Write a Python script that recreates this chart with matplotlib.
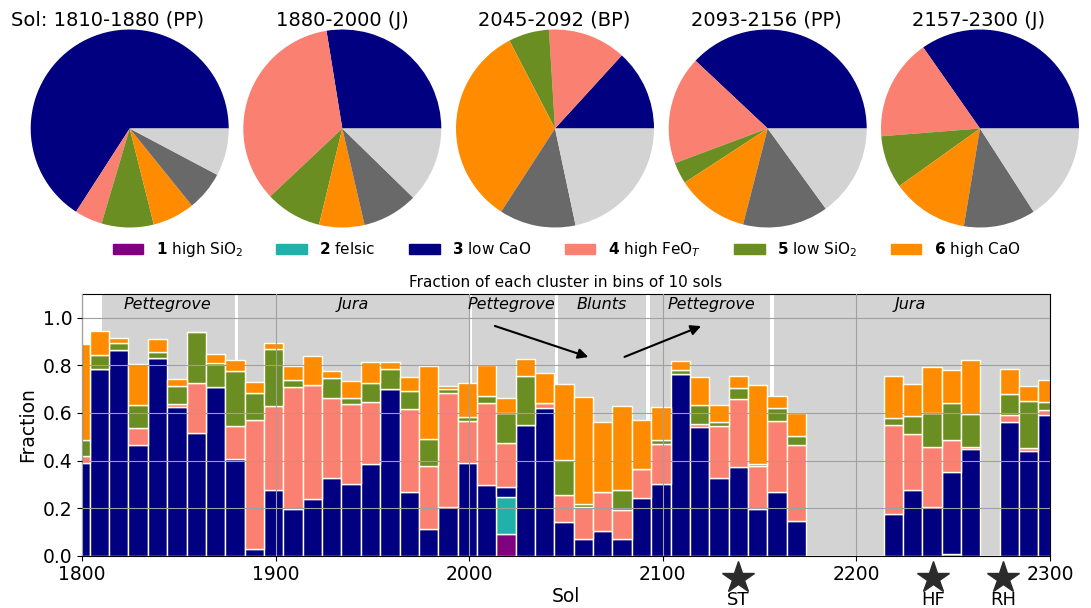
import matplotlib.pyplot as plt
from matplotlib.patches import Patch
import numpy as np

# ---- pie charts: share of each cluster per traverse segment (arc, degrees) ----
pie_titles = ['Sol: 1810-1880 (PP)', '1880-2000 (J)', '2045-2092 (BP)',
              '2093-2156 (PP)', '2157-2300 (J)']
pie_low_cao = [237.2, 99.2, 47.6, 136.8, 125.0]
pie_high_feo = [16.3, 124.1, 45.9, 63.7, 59.5]
pie_low_sio2 = [30.6, 33.1, 23.9, 12.6, 31.0]
pie_high_cao = [24.8, 26.6, 119.7, 42.5, 45.1]
pie_other_a = [23.2, 32.7, 44.9, 50.3, 42.2]
pie_other_b = [27.9, 44.3, 78.0, 54.1, 57.2]
pie_colors = ['navy', 'salmon', 'olivedrab', 'darkorange', 'dimgray', 'lightgray']

# ---- stacked bars: fraction of each cluster in 10-sol bins ----
bin_left = np.arange(1794, 2304, 10)
high_sio2 = [0, 0, 0, 0, 0, 0, 0, 0, 0, 0,
             0, 0, 0, 0, 0, 0, 0, 0, 0, 0,
             0, 0, .09, 0, 0, 0, 0, 0, 0, 0,
             0, 0, 0, 0, 0, 0, 0, 0, 0, 0,
             0, 0, 0, 0, 0, 0, 0, 0, 0, 0, 0]
felsic = [0, 0, 0, 0, 0, 0, 0, 0, 0, 0,
          0, 0, 0, 0, 0, 0, 0, 0, 0, 0,
          0, 0, .155, 0, 0, 0, 0, 0, 0, 0,
          0, 0, 0, 0, 0, 0, 0, 0, 0, 0,
          0, 0, 0, 0, 0, .006, 0, 0, 0, 0, 0]
low_cao = [.39, .784, .864, .465, .832, .623, .517, .707, .406, .029,
           .276, .197, .237, .325, .30, .384, .702, .267, .113, .206,
           .389, .297, .042, .548, .62, .14, .069, .104, .069, .241,
           .301, .765, .539, .328, .371, .197, .269, .147, 0, 0,
           0, 0, .174, .276, .206, .346, .447, 0, .56, .44, .591]
high_feo = [.03, 0, 0, .071, 0, .014, .21, 0, .137, .542,
            .351, .513, .479, .336, .337, .26, 0, .349, .264, .476,
            .177, .346, .186, 0, .02, .115, .135, .165, .123, .123,
            .167, 0, .014, .218, .289, .18, .297, .317, 0, 0,
            0, 0, .375, .235, .249, .135, .011, 0, .032, .012, .021]
low_sio2 = [.066, .058, .028, .097, .024, .076, .211, .104, .232, .112,
            .241, .028, 0, .087, .027, .08, .084, .076, .113, .017,
            .018, .028, .126, .207, 0, .147, .012, 0, .085, 0,
            .018, .015, .08, .016, .044, .01, .056, .04, 0, 0,
            0, 0, .031, .077, .146, .154, .136, 0, .086, .198, .032]
high_cao = [.402, .102, .024, .172, .053, .028, 0, .035, .047, .048,
            .024, .06, .124, .027, .071, .09, .028, .06, .307, .015,
            .143, .132, .063, .073, .126, .318, .449, .293, .353, .206,
            .14, .038, .116, .072, .051, .331, .049, .094, 0, 0,
            0, 0, .175, .132, .19, .138, .228, 0, .105, .063, .094]

cluster_labels = [r'$\mathbf{1}$ high SiO$_2$', r'$\mathbf{2}$ felsic',
                  r'$\mathbf{3}$ low CaO', r'$\mathbf{4}$ high FeO$_T$',
                  r'$\mathbf{5}$ low SiO$_2$', r'$\mathbf{6}$ high CaO']
cluster_colors = ['purple', 'lightseagreen', 'navy', 'salmon', 'olivedrab', 'darkorange']

# traverse segments shaded behind the bars
segment_names = ['Pettegrove', 'Jura', 'Pettegrove', 'Blunts', 'Pettegrove', 'Jura']
segment_start = [1810.5, 1880.4, 2001.7, 2046.0, 2093.3, 2157.6]
segment_end = [1879.2, 2000.0, 2044.3, 2091.4, 2155.5, 2300.0]
segment_label_x = [1844, 1940, 2022, 2068.5, 2125, 2228]

# drill sites
site_names = ['ST', 'HF', 'RH']
site_sol = [2138.7, 2239.7, 2275.8]

W, H = 1091, 608
fig = plt.figure(figsize=(W / 100, H / 100), dpi=100)

# pies
pie_cx = [129.7, 342.3, 555.0, 767.7, 980.0]
title_cx = [107.6, 342.0, 554.0, 766.7, 979.0]
r = 99
for i in range(5):
    ax = fig.add_axes([(pie_cx[i] - r) / W, (H - 128.5 - r) / H, 2 * r / W, 2 * r / H])
    vals = [pie_low_cao[i], pie_high_feo[i], pie_low_sio2[i], pie_high_cao[i],
            pie_other_a[i], pie_other_b[i]]
    ax.pie(vals, colors=pie_colors, startangle=0, counterclock=True)
    ax.set_xlim(-1, 1)
    ax.set_ylim(-1, 1)
    ax.set_aspect('equal')
    fig.text(title_cx[i] / W, 1 - 20 / H, pie_titles[i], ha='center', va='center',
             fontsize=14)

# legend
handles = [Patch(color=c, label=l) for c, l in zip(cluster_colors, cluster_labels)]
fig.legend(handles=handles, loc='center', bbox_to_anchor=(566.5 / W, 1 - 250 / H),
           ncol=6, frameon=False, fontsize=11, handlelength=2.0, handleheight=0.7,
           columnspacing=2.2, handletextpad=0.8)

# bar chart
ax = fig.add_axes([82 / W, (H - 555.7) / H, 968 / W, 261.8 / H])
for s, e in zip(segment_start, segment_end):
    ax.axvspan(s, e, color='lightgray', lw=0, zorder=0)
for name, x in zip(segment_names, segment_label_x):
    ax.text(x, 1.055, name, ha='center', va='center', style='italic', fontsize=11.5)

bottom = np.zeros(len(bin_left))
for vals, c in zip([high_sio2, felsic, low_cao, high_feo, low_sio2, high_cao],
                   cluster_colors):
    vals = np.array(vals)
    ax.bar(bin_left, vals, width=10, bottom=bottom, align='edge', color=c,
           edgecolor='ivory', linewidth=1, zorder=1)
    bottom += vals

ax.annotate('', xy=(2062.9, 0.831), xytext=(2011.9, 0.969),
            arrowprops=dict(arrowstyle='-|>', color='black', lw=1.5, mutation_scale=15))
ax.annotate('', xy=(2121.1, 0.969), xytext=(2078.9, 0.831),
            arrowprops=dict(arrowstyle='-|>', color='black', lw=1.5, mutation_scale=15))

ax.plot(site_sol, [-0.094] * len(site_sol), '*', color='#2b2b2b', markersize=24,
        clip_on=False)
for name, x in zip(site_names, site_sol):
    ax.text(x, -0.185, name, ha='center', va='center', fontsize=13)

ax.set_xlim(1800, 2300)
ax.set_ylim(0, 1.1)
ax.set_xticks([1800, 1900, 2000, 2100, 2200, 2300])
ax.set_yticks([0.0, 0.2, 0.4, 0.6, 0.8, 1.0])
ax.tick_params(labelsize=13.5)
ax.set_axisbelow(False)
ax.grid(True, color='#a0a0a0', lw=0.8)
ax.set_xlabel('Sol', fontsize=13.5, labelpad=2)
ax.set_ylabel('Fraction', fontsize=13.5)
ax.set_title('Fraction of each cluster in bins of 10 sols', fontsize=11, pad=5)

plt.savefig('out.png', dpi=100)
